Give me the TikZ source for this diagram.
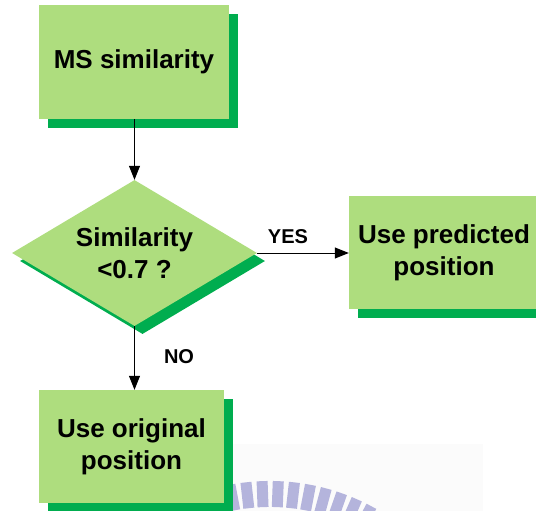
\documentclass[tikz,border=0pt]{standalone}
\usepackage{fontspec}
\setmainfont{Liberation Sans}
\usetikzlibrary{shapes.geometric,shadows,arrows.meta}
\definecolor{boxgreen}{RGB}{174,221,126}
\definecolor{shadegreen}{RGB}{0,173,79}
\definecolor{wmark}{RGB}{180,180,220}
\tikzset{
  stepbox/.style={rectangle, fill=boxgreen, inner sep=0pt, align=center,
    font=\fontsize{26}{31.7}\selectfont\bfseries,
    general shadow={shadow xshift=9pt, shadow yshift=-9pt, fill=shadegreen}},
  decision/.style={diamond, fill=boxgreen, inner sep=0pt, align=center,
    aspect=1.678, minimum width=245pt, minimum height=146pt,
    font=\fontsize{26}{31.7}\selectfont\bfseries,
    general shadow={shadow xshift=8pt, shadow yshift=-8pt, fill=shadegreen}},
  lbl/.style={font=\fontsize{20}{24}\selectfont\bfseries, inner sep=0pt},
  flow/.style={line width=1pt, -{Triangle[length=14pt,width=11pt]}}
}
\begin{document}
\begin{tikzpicture}[x=1pt,y=-1pt]
\useasboundingbox (0,0) rectangle (536,511);
\clip (0,0) rectangle (536,511);
% faint background patch and watermark
\fill[gray!3] (232,444) rectangle (483,511);
\foreach \k in {0,...,12} {
  \pgfmathsetmacro{\a}{-15+4.3*\k}
  \pgfmathsetmacro{\s}{sin(\a)}
  \pgfmathsetmacro{\c}{cos(\a)}
  \fill[wmark]
    ({270+216*\s-5.5*\c},{697-216*\c-5.5*\s}) --
    ({270+216*\s+5.5*\c},{697-216*\c+5.5*\s}) --
    ({270+190*\s+5.5*\c},{697-190*\c+5.5*\s}) --
    ({270+190*\s-5.5*\c},{697-190*\c-5.5*\s}) -- cycle;
}
% nodes
\node[stepbox, minimum width=190pt, minimum height=114pt] (ms) at (134,62) {MS similarity};
\node[decision] (d) at (134.5,253) {Similarity\\[0pt]<0.7 ?};
\node[stepbox, minimum width=190pt, minimum height=113pt] (pred) at (444,252.5) {Use predicted\\position};
\node[stepbox, minimum width=185pt, minimum height=113pt] (orig) at (131.5,446.5) {Use original\\position};
% connectors
\draw[flow] (ms.south -| d.north) -- (d.north);
\draw[flow] (d.east) -- (pred.west |- d.east);
\draw[flow] (d.south) -- (d.south |- orig.north);
\node[lbl] (yes) at (288,237) {YES};
\node[lbl] (no) at (179,357) {NO};
\end{tikzpicture}
\end{document}
